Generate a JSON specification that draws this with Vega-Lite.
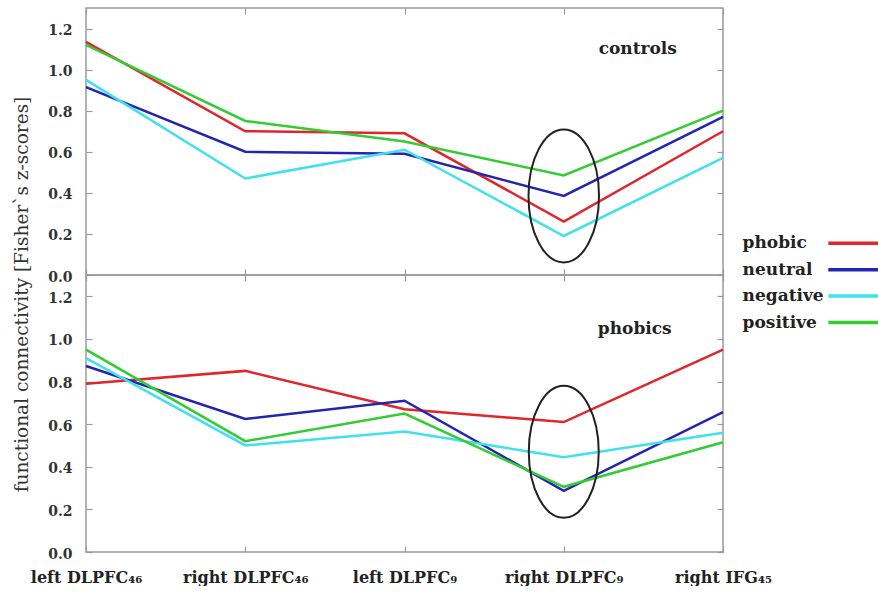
{
  "$schema": "https://vega.github.io/schema/vega-lite/v6.json",
  "padding": {"left": 11, "top": 6, "right": 0, "bottom": 0},
  "bounds": "flush",
  "spacing": 0,
  "background": "white",
  "config": {
    "font": "DejaVu Serif",
    "view": {"stroke": "#9a9a9a", "strokeWidth": 1.5},
    "axis": {"domain": false, "grid": false, "tickColor": "#9a9a9a", "tickWidth": 1.2, "labelFont": "DejaVu Serif", "labelFontWeight": "bold", "labelColor": "#333333"}
  },
  "datasets": {
    "conn": [
      {"group": "controls", "condition": "phobic", "region": "left DLPFC₄₆", "z": 1.135},
      {"group": "controls", "condition": "phobic", "region": "right DLPFC₄₆", "z": 0.70},
      {"group": "controls", "condition": "phobic", "region": "left DLPFC₉", "z": 0.69},
      {"group": "controls", "condition": "phobic", "region": "right DLPFC₉", "z": 0.26},
      {"group": "controls", "condition": "phobic", "region": "right IFG₄₅", "z": 0.70},
      {"group": "controls", "condition": "neutral", "region": "left DLPFC₄₆", "z": 0.915},
      {"group": "controls", "condition": "neutral", "region": "right DLPFC₄₆", "z": 0.60},
      {"group": "controls", "condition": "neutral", "region": "left DLPFC₉", "z": 0.59},
      {"group": "controls", "condition": "neutral", "region": "right DLPFC₉", "z": 0.385},
      {"group": "controls", "condition": "neutral", "region": "right IFG₄₅", "z": 0.77},
      {"group": "controls", "condition": "negative", "region": "left DLPFC₄₆", "z": 0.95},
      {"group": "controls", "condition": "negative", "region": "right DLPFC₄₆", "z": 0.47},
      {"group": "controls", "condition": "negative", "region": "left DLPFC₉", "z": 0.61},
      {"group": "controls", "condition": "negative", "region": "right DLPFC₉", "z": 0.19},
      {"group": "controls", "condition": "negative", "region": "right IFG₄₅", "z": 0.57},
      {"group": "controls", "condition": "positive", "region": "left DLPFC₄₆", "z": 1.12},
      {"group": "controls", "condition": "positive", "region": "right DLPFC₄₆", "z": 0.75},
      {"group": "controls", "condition": "positive", "region": "left DLPFC₉", "z": 0.65},
      {"group": "controls", "condition": "positive", "region": "right DLPFC₉", "z": 0.485},
      {"group": "controls", "condition": "positive", "region": "right IFG₄₅", "z": 0.80},
      {"group": "phobics", "condition": "phobic", "region": "left DLPFC₄₆", "z": 0.79},
      {"group": "phobics", "condition": "phobic", "region": "right DLPFC₄₆", "z": 0.85},
      {"group": "phobics", "condition": "phobic", "region": "left DLPFC₉", "z": 0.67},
      {"group": "phobics", "condition": "phobic", "region": "right DLPFC₉", "z": 0.61},
      {"group": "phobics", "condition": "phobic", "region": "right IFG₄₅", "z": 0.95},
      {"group": "phobics", "condition": "neutral", "region": "left DLPFC₄₆", "z": 0.873},
      {"group": "phobics", "condition": "neutral", "region": "right DLPFC₄₆", "z": 0.624},
      {"group": "phobics", "condition": "neutral", "region": "left DLPFC₉", "z": 0.71},
      {"group": "phobics", "condition": "neutral", "region": "right DLPFC₉", "z": 0.287},
      {"group": "phobics", "condition": "neutral", "region": "right IFG₄₅", "z": 0.657},
      {"group": "phobics", "condition": "negative", "region": "left DLPFC₄₆", "z": 0.91},
      {"group": "phobics", "condition": "negative", "region": "right DLPFC₄₆", "z": 0.50},
      {"group": "phobics", "condition": "negative", "region": "left DLPFC₉", "z": 0.566},
      {"group": "phobics", "condition": "negative", "region": "right DLPFC₉", "z": 0.445},
      {"group": "phobics", "condition": "negative", "region": "right IFG₄₅", "z": 0.56},
      {"group": "phobics", "condition": "positive", "region": "left DLPFC₄₆", "z": 0.95},
      {"group": "phobics", "condition": "positive", "region": "right DLPFC₄₆", "z": 0.52},
      {"group": "phobics", "condition": "positive", "region": "left DLPFC₉", "z": 0.65},
      {"group": "phobics", "condition": "positive", "region": "right DLPFC₉", "z": 0.306},
      {"group": "phobics", "condition": "positive", "region": "right IFG₄₅", "z": 0.515}
    ],
    "highlight": [
      {"group": "controls", "region": "right DLPFC₉", "z": 0.385},
      {"group": "phobics", "region": "right DLPFC₉", "z": 0.47}
    ],
    "panelLabels": [
      {"group": "controls", "region": "right DLPFC₉", "z": 1.10, "text": "controls"},
      {"group": "phobics", "region": "right DLPFC₉", "z": 1.045, "text": "phobics"}
    ]
  },
  "resolve": {"scale": {"color": "shared"}, "legend": {"color": "shared"}},
  "vconcat": [
    {
      "width": 637,
      "height": 267,
      "layer": [
        {
          "data": {"name": "conn"},
          "transform": [{"filter": "datum.group === 'controls'"}],
          "mark": {"type": "line", "strokeWidth": 2.5},
          "encoding": {
            "x": {"field": "region", "type": "nominal", "scale": {"type": "point", "padding": 0, "domain": ["left DLPFC₄₆", "right DLPFC₄₆", "left DLPFC₉", "right DLPFC₉", "right IFG₄₅"]}, "axis": {"orient": "bottom", "labels": false, "ticks": true, "tickSize": -6, "title": null}},
            "y": {"field": "z", "type": "quantitative", "scale": {"domain": [0, 1.3], "nice": false}, "axis": {"orient": "left", "values": [0, 0.2, 0.4, 0.6, 0.8, 1.0, 1.2], "format": ".1f", "tickSize": -6, "labelPadding": 20, "labelFontSize": 14, "labelOffset": 2, "title": null}},
            "color": {
              "field": "condition", "type": "nominal",
              "scale": {"domain": ["phobic", "neutral", "negative", "positive"], "range": ["#e0262a", "#2424b0", "#3fe2ec", "#33cc33"]},
              "legend": {"orient": "none", "legendX": 759.8, "legendY": 226.8, "title": null, "padding": 0, "symbolType": "M-5,0H5", "symbolSize": 108, "symbolStrokeWidth": 3.5, "symbolFillColor": "transparent", "rowPadding": 8.4, "labelAlign": "left", "labelOffset": -120.2, "labelFont": "DejaVu Serif", "labelFontWeight": "bold", "labelFontSize": 17, "labelColor": "#222222", "labelLimit": 300}
            },
            "order": {"value": null}
          }
        },
        {
          "data": {"name": "highlight"},
          "transform": [{"filter": "datum.group === 'controls'"}],
          "mark": {"type": "point", "shape": "M0,-1A0.53,1,0,1,1,0,1A0.53,1,0,1,1,0,-1Z", "size": 17689, "filled": false, "stroke": "#222222", "strokeWidth": 2, "opacity": 1},
          "encoding": {
            "x": {"field": "region", "type": "nominal", "axis": {"orient": "top", "labels": false, "tickSize": -6, "title": null}},
            "y": {"field": "z", "type": "quantitative", "axis": {"orient": "right", "labels": false, "values": [0, 0.2, 0.4, 0.6, 0.8, 1.0, 1.2], "tickSize": -6, "title": null}}
          }
        },
        {
          "data": {"name": "panelLabels"},
          "transform": [{"filter": "datum.group === 'controls'"}],
          "mark": {"type": "text", "dx": 74, "align": "center", "baseline": "middle", "font": "DejaVu Serif", "fontWeight": "bold", "fontSize": 17, "color": "#222222"},
          "encoding": {
            "x": {"field": "region", "type": "nominal", "axis": null},
            "y": {"field": "z", "type": "quantitative", "axis": null},
            "text": {"field": "text"}
          }
        }
      ],
      "resolve": {"axis": {"x": "independent", "y": "independent"}}
    },
    {
      "width": 637,
      "height": 277,
      "layer": [
        {
          "data": {"name": "conn"},
          "transform": [{"filter": "datum.group === 'phobics'"}],
          "mark": {"type": "line", "strokeWidth": 2.5},
          "encoding": {
            "x": {"field": "region", "type": "nominal", "scale": {"type": "point", "padding": 0, "domain": ["left DLPFC₄₆", "right DLPFC₄₆", "left DLPFC₉", "right DLPFC₉", "right IFG₄₅"]}, "axis": {"orient": "bottom", "labels": true, "labelAngle": 0, "ticks": true, "tickSize": -6, "labelPadding": 23, "labelFontSize": 16, "labelColor": "#222222", "title": null}},
            "y": {"field": "z", "type": "quantitative", "scale": {"domain": [0, 1.3], "nice": false}, "axis": {"orient": "left", "values": [0, 0.2, 0.4, 0.6, 0.8, 1.0, 1.2], "format": ".1f", "tickSize": -6, "labelPadding": 20, "labelFontSize": 14, "labelOffset": 2, "title": "functional connectivity [Fisher`s z-scores]", "titleY": 19, "titleFont": "DejaVu Serif", "titleFontWeight": "normal", "titleFontSize": 18.5, "titleColor": "#333333", "titlePadding": 16}},
            "color": {"field": "condition", "type": "nominal"},
            "order": {"value": null}
          }
        },
        {
          "data": {"name": "highlight"},
          "transform": [{"filter": "datum.group === 'phobics'"}],
          "mark": {"type": "point", "shape": "M0,-1A0.53,1,0,1,1,0,1A0.53,1,0,1,1,0,-1Z", "size": 17424, "filled": false, "stroke": "#222222", "strokeWidth": 2, "opacity": 1},
          "encoding": {
            "x": {"field": "region", "type": "nominal", "axis": {"orient": "top", "labels": false, "tickSize": -6, "title": null}},
            "y": {"field": "z", "type": "quantitative", "axis": {"orient": "right", "labels": false, "values": [0, 0.2, 0.4, 0.6, 0.8, 1.0, 1.2], "tickSize": -6, "title": null}}
          }
        },
        {
          "data": {"name": "panelLabels"},
          "transform": [{"filter": "datum.group === 'phobics'"}],
          "mark": {"type": "text", "dx": 71, "align": "center", "baseline": "middle", "font": "DejaVu Serif", "fontWeight": "bold", "fontSize": 17, "color": "#222222"},
          "encoding": {
            "x": {"field": "region", "type": "nominal", "axis": null},
            "y": {"field": "z", "type": "quantitative", "axis": null},
            "text": {"field": "text"}
          }
        }
      ],
      "resolve": {"axis": {"x": "independent", "y": "independent"}}
    }
  ]
}
